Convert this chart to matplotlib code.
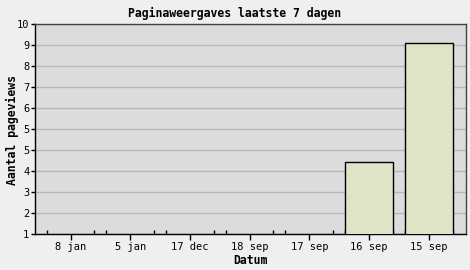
import matplotlib
matplotlib.use("Agg")
import matplotlib.pyplot as plt

dates = ["8 jan", "5 jan", "17 dec", "18 sep", "17 sep", "16 sep", "15 sep"]
pageviews = [0, 0, 0, 0, 0, 4.07, 9.17]
ytick_values = [1, 1.9, 2.8, 3.7, 4.6, 5.5, 6.4, 7.3, 8.2, 9.1, 10]
ytick_labels = ["1", "2", "3", "4", "5", "5", "6", "7", "8", "9", "10"]


def main():
    mono = "DejaVu Sans Mono"
    fig = plt.figure(figsize=(4.7, 2.7), dpi=100, facecolor="#efefef")
    ax = fig.add_axes([35 / 470, 1 - 234 / 270, 431 / 470, 210 / 270])
    ax.set_facecolor("#dcdcdc")

    x = list(range(len(dates)))
    bar_w = 0.80
    ax.bar(x, pageviews, width=bar_w, color="#dfe4c8", edgecolor="black",
           linewidth=1, zorder=3)

    ax.set_xlim(-0.595, 6.625)
    ax.set_ylim(1, 10)

    ax.set_yticks(ytick_values)
    ax.set_yticklabels(ytick_labels, fontfamily=mono, fontsize=7.5)
    ax.yaxis.grid(True, color="#b8b8b8", linewidth=1)
    ax.set_axisbelow(True)
    ax.tick_params(axis="y", length=3, width=1, pad=1, color="black")

    ax.set_xticks(x)
    ax.set_xticklabels(dates, fontfamily=mono, fontsize=7.5)
    ax.tick_params(axis="x", direction="out", length=4, width=1, pad=2)
    minor = []
    for i in x:
        minor += [i - bar_w / 2, i + bar_w / 2]
    ax.set_xticks(minor, minor=True)
    ax.tick_params(axis="x", which="minor", direction="in", length=3, width=1)

    for side in ["top", "right"]:
        ax.spines[side].set_color("#444444")
        ax.spines[side].set_linewidth(1)
    for side in ["left", "bottom"]:
        ax.spines[side].set_color("black")
        ax.spines[side].set_linewidth(1)

    fig.text(0.5, 1 - 13 / 270, "Paginaweergaves laatste 7 dagen",
             ha="center", va="center", fontfamily=mono, fontweight="bold",
             fontsize=8.3)
    fig.text(12 / 470, 1 - 130 / 270, "Aantal pageviews", rotation=90,
             ha="center", va="center", fontfamily=mono, fontweight="bold",
             fontsize=8.3)
    fig.text(250 / 470, 1 - 260 / 270, "Datum", ha="center", va="center",
             fontfamily=mono, fontweight="bold", fontsize=8.3)

    fig.savefig("out.png", dpi=100, facecolor=fig.get_facecolor())
    plt.close(fig)


if __name__ == "__main__":
    main()
